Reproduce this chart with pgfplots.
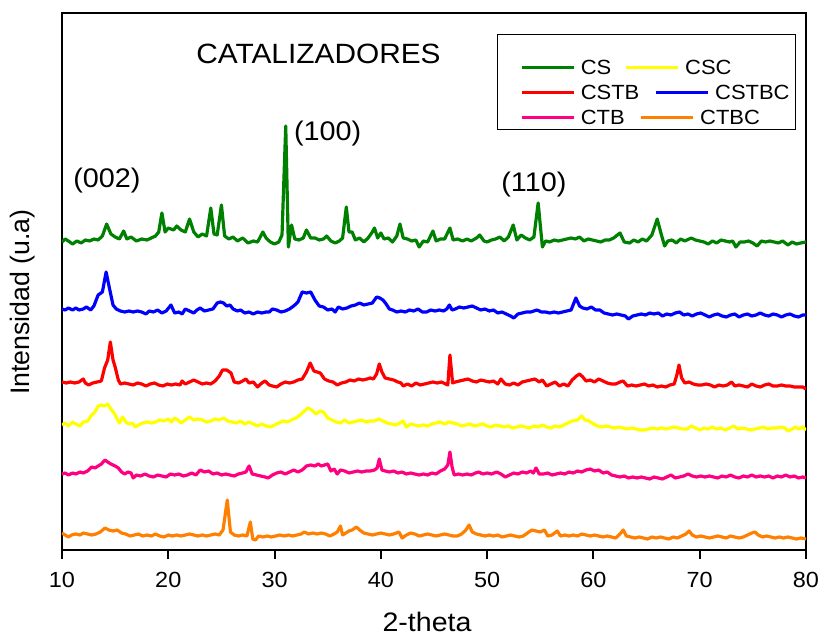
\documentclass[border=0pt]{standalone}
\usepackage{fontspec}
\setmainfont{Liberation Sans}[FakeStretch=1.07]
\newfontfamily\plainfont{Liberation Sans}
\usepackage{pgfplots}
\pgfplotsset{compat=1.18}
\definecolor{cgreen}{RGB}{0,128,0}
\definecolor{cyellow}{RGB}{255,255,0}
\definecolor{cred}{RGB}{255,0,0}
\definecolor{cblue}{RGB}{0,0,255}
\definecolor{cpink}{RGB}{255,0,128}
\definecolor{corange}{RGB}{255,128,0}
\pgfplotsset{
  imgrowone/.style={legend image code/.code={\path (0bp,0bp) (34.5bp,0bp); \draw[##1, overlay] (-6.5bp,0bp) -- (19.5bp,0bp);}},
  imgrowthree/.style={legend image code/.code={\path (0bp,0bp) (34.5bp,0bp); \draw[##1, overlay] (1bp,0bp) -- (27bp,0bp);}},
}
\begin{document}
\begin{tikzpicture}
\useasboundingbox (-31bp,-42.5bp) rectangle (380bp,275bp);
\begin{axis}[
  scale only axis, width=372bp, height=268.5bp,
  xmin=10, xmax=80, ymin=0, ymax=537,
  xtick={10,20,...,80}, ytick=\empty,
  tick pos=left, tick align=outside, major tick length=4.5bp,
  tick style={black, line width=1pt},
  axis line style={black, line width=1pt},
  ticklabel style={font=\fontsize{11}{13}\selectfont, yshift=-3bp},
  /pgf/number format/assume math mode=true,
  xlabel={2-theta},
  ylabel={Intensidad (u.a)},
  xlabel style={font=\fontsize{13.4}{15}\selectfont, at={(axis description cs:0.4906,-0.134)}, anchor=center},
  ylabel style={font=\plainfont\fontsize{13.4}{15}\selectfont, at={(axis description cs:-0.0524,0.4618)}, anchor=center},
  every axis plot/.append style={line width=1.6pt, line join=round},
  legend columns=2,
  legend cell align=left,
  legend style={at={(axis description cs:0.5847,0.961)}, anchor=north west, draw=black, line width=0.6pt, fill=white,
    font=\fontsize{10.3}{12}\selectfont, inner xsep=3bp, inner ysep=2.25bp, row sep=5.1bp,
    nodes={inner sep=0pt, text height=7.4bp, text depth=0bp},
    /tikz/every odd column/.append style={column sep=2.5bp},
    /tikz/every even column/.append style={column sep=-1bp}},
  legend image code/.code={\path (0bp,0bp); \draw[#1] (8.5bp,0bp) -- (34.5bp,0bp);},
]
\addlegendimage{empty legend}\addlegendentry[text height=5.4bp]{}
\addlegendimage{empty legend}\addlegendentry[text height=5.4bp]{}
% CS
\addplot[cgreen] coordinates {
(10.0,308) (10.3,311) (10.6,309) (11.0,306) (11.4,309) (11.8,307) (12.2,310) (12.6,309) (13.0,311) (13.4,310)
(13.8,314) (14.2,326) (14.6,316) (15.0,313) (15.4,311) (15.8,319) (16.1,311) (16.5,313) (17.0,309) (17.5,311)
(18.0,310) (18.4,312) (18.8,314) (19.1,318) (19.4,337) (19.7,318) (20.0,322) (20.5,320) (20.8,324) (21.2,320)
(21.6,318) (22.0,331) (22.4,318) (22.8,313) (23.2,316) (23.6,314) (24.0,342) (24.3,316) (24.6,315) (25.0,345)
(25.3,314) (25.7,311) (26.1,313) (26.5,309) (27.0,312) (27.5,307) (28.0,309) (28.4,308) (28.9,318) (29.2,312)
(29.6,308) (30.0,306) (30.4,308) (30.7,315) (31.05,424) (31.3,303) (31.6,325) (31.9,311) (32.3,310) (32.7,312)
(33.0,320) (33.4,312) (33.8,312) (34.2,310) (34.6,311) (34.9,314) (35.3,309) (35.7,307) (36.1,309) (36.4,312)
(36.75,343) (37.0,318) (37.3,318) (37.6,310) (38.0,312) (38.4,308) (38.8,312) (39.2,318) (39.4,322) (39.7,312)
(40.0,317) (40.3,311) (40.7,312) (41.1,308) (41.5,314) (41.8,326) (42.1,312) (42.5,311) (42.9,309) (43.3,310)
(43.6,303) (44.0,309) (44.4,308) (44.9,319) (45.2,309) (45.6,311) (46.0,311) (46.5,322) (46.8,310) (47.2,311)
(47.7,309) (48.1,311) (48.5,309) (49.0,312) (49.3,315) (49.7,309) (50.0,308) (50.4,310) (50.8,311) (51.2,313)
(51.6,309) (52.0,313) (52.45,325) (52.8,310) (53.2,315) (53.6,312) (54.0,310) (54.4,313) (54.8,347) (55.2,303)
(55.5,309) (55.9,308) (56.3,310) (56.7,309) (57.1,310) (57.5,311) (57.9,312) (58.3,311) (58.7,313) (59.1,309)
(59.5,311) (59.9,310) (60.3,309) (60.7,308) (61.1,310) (61.5,310) (61.9,312) (62.5,317) (62.9,308) (63.4,307)
(63.8,310) (64.2,308) (64.6,311) (65.0,309) (65.5,315) (66.0,331) (66.4,315) (66.7,304) (67.0,309) (67.4,310)
(67.8,307) (68.2,311) (68.6,309) (69.2,312) (69.6,310) (70.0,309) (70.4,308) (70.8,306) (71.2,309) (71.6,307)
(72.0,310) (72.4,309) (72.8,308) (73.1,309) (73.4,303) (73.8,308) (74.2,308) (74.6,309) (75.0,307) (75.4,304)
(75.8,309) (76.2,308) (76.6,309) (77.0,308) (77.4,307) (77.8,309) (78.3,305) (78.7,308) (79.1,306) (79.5,307)
(80.0,308)};
\addlegendentry{CS}
% CSC
\addplot[cyellow, imgrowone] coordinates {
(10.0,125) (10.3,127) (10.6,124) (11.0,128) (11.3,126) (11.7,124) (12.0,128) (12.4,129) (12.8,135) (13.1,138)
(13.4,144) (13.7,145) (14.0,144) (14.3,146) (14.6,141) (14.9,137) (15.2,131) (15.4,127) (15.7,133) (16.0,128)
(16.3,126) (16.6,127) (16.9,123) (17.2,125) (17.6,127) (18.0,128) (18.4,127) (18.8,128) (19.2,130) (19.6,129)
(20.0,131) (20.3,128) (20.6,132) (20.9,130) (21.2,127) (21.6,130) (22.0,133) (22.4,130) (22.8,131) (23.2,130)
(23.6,128) (24.0,129) (24.4,131) (24.8,130) (25.2,132) (25.6,129) (26.0,128) (26.4,127) (26.8,129) (27.2,126)
(27.6,128) (28.0,126) (28.4,124) (28.8,126) (29.2,124) (29.6,123) (30.0,125) (30.4,127) (30.8,129) (31.2,128)
(31.6,130) (32.0,132) (32.4,135) (32.8,139) (33.15,142) (33.5,140) (33.9,136) (34.3,139) (34.6,138) (35.0,132)
(35.4,130) (35.8,128) (36.2,127) (36.6,130) (37.0,127) (37.4,128) (37.8,129) (38.2,130) (38.6,128) (39.0,129)
(39.4,129) (39.8,131) (40.2,129) (40.6,127) (41.0,126) (41.4,125) (41.8,127) (42.1,129) (42.4,123) (42.8,126)
(43.2,125) (43.6,124) (44.0,125) (44.4,124) (44.8,126) (45.2,127) (45.6,128) (46.0,126) (46.4,128) (46.8,127)
(47.2,126) (47.6,124) (48.0,125) (48.4,126) (48.8,124) (49.2,125) (49.6,126) (50.0,124) (50.4,123) (50.8,125)
(51.2,124) (51.6,123) (52.0,124) (52.4,122) (52.8,123) (53.2,124) (53.6,123) (54.0,122) (54.4,124) (54.8,123)
(55.2,125) (55.6,123) (56.0,122) (56.4,124) (56.8,123) (57.2,125) (57.6,127) (58.0,129) (58.5,130) (58.9,134)
(59.2,130) (59.6,129) (60.0,126) (60.4,124) (60.8,123) (61.2,124) (61.6,123) (62.0,122) (62.4,123) (62.8,122)
(63.2,121) (63.6,122) (64.0,121) (64.4,120) (64.8,120) (65.2,121) (65.6,122) (66.0,121) (66.4,122) (66.8,121)
(67.2,122) (67.6,123) (68.0,122) (68.4,121) (68.8,121) (69.2,124) (69.6,122) (70.0,120) (70.4,122) (70.8,121)
(71.2,123) (71.6,121) (72.0,122) (72.4,120) (72.8,122) (73.2,124) (73.6,121) (74.0,122) (74.4,121) (74.8,120)
(75.2,121) (75.6,122) (76.0,123) (76.4,121) (76.8,122) (77.2,122) (77.6,123) (78.0,122) (78.3,119) (78.7,121)
(79.0,123) (79.3,121) (79.7,123) (80.0,120)};
\addlegendentry[overlay, xshift=-15bp]{CSC}
% CSTB
\addplot[cred] coordinates {
(10.0,168) (10.4,167) (10.8,168) (11.2,167) (11.6,168) (12.0,171) (12.2,167) (12.5,165) (12.9,167) (13.3,168)
(13.7,169) (14.0,182) (14.3,190) (14.55,208) (14.8,190) (15.0,183) (15.3,170) (15.5,166) (15.9,167) (16.3,166)
(16.7,165) (17.1,167) (17.5,166) (17.9,164) (18.3,166) (18.7,167) (19.1,165) (19.5,164) (19.9,166) (20.3,165)
(20.7,166) (21.1,165) (21.3,169) (21.6,166) (22.0,168) (22.4,170) (22.8,168) (23.2,166) (23.6,167) (24.0,166)
(24.4,169) (24.8,174) (25.1,180) (25.5,180) (25.9,177) (26.2,168) (26.6,167) (27.0,169) (27.3,171) (27.6,167)
(28.0,168) (28.4,163) (28.8,167) (29.1,169) (29.5,165) (29.8,164) (30.2,163) (30.6,166) (31.0,168) (31.4,167)
(31.8,168) (32.2,170) (32.6,171) (33.0,178) (33.35,187) (33.7,179) (34.0,178) (34.3,177) (34.7,171) (35.1,169)
(35.5,168) (35.9,165) (36.3,167) (36.7,168) (37.1,170) (37.5,169) (37.9,171) (38.3,170) (38.7,171) (39.0,172)
(39.3,171) (39.6,176) (39.85,186) (40.1,178) (40.4,172) (40.8,171) (41.2,170) (41.6,168) (41.9,167) (42.1,164)
(42.5,166) (42.9,164) (43.3,167) (43.7,165) (44.1,166) (44.5,167) (44.9,168) (45.3,167) (45.7,168) (46.1,166)
(46.3,165) (46.5,195) (46.75,167) (47.0,168) (47.4,169) (47.8,170) (48.2,171) (48.6,169) (49.0,168) (49.4,170)
(49.8,169) (50.2,168) (50.6,169) (51.0,166) (51.3,171) (51.7,166) (52.1,165) (52.5,167) (52.9,165) (53.3,168)
(53.7,169) (54.1,170) (54.5,171) (54.9,168) (55.2,170) (55.6,164) (56.0,166) (56.4,168) (56.8,164) (57.2,166)
(57.6,164) (58.0,170) (58.4,174) (58.7,176) (59.0,173) (59.3,169) (59.7,170) (60.1,168) (60.5,171) (60.9,169)
(61.3,167) (61.7,166) (62.1,166) (62.5,168) (62.8,169) (63.2,164) (63.6,165) (64.0,164) (64.4,165) (64.8,166)
(65.2,164) (65.6,165) (66.0,163) (66.4,164) (66.8,163) (67.2,165) (67.6,166) (67.85,175) (68.05,185) (68.3,172)
(68.6,167) (69.0,168) (69.4,166) (69.8,165) (70.2,165) (70.6,166) (71.0,165) (71.4,163) (71.8,165) (72.2,164)
(72.6,165) (73.0,168) (73.3,164) (73.7,165) (74.1,164) (74.5,163) (74.9,166) (75.3,164) (75.7,163) (76.1,165)
(76.5,166) (76.9,164) (77.3,164) (77.7,165) (78.1,164) (78.5,164) (78.9,163) (79.3,163) (79.7,163) (80.0,161)};
\addlegendentry{CSTB}
% CSTBC
\addplot[cblue] coordinates {
(10.0,241) (10.3,240) (10.6,242) (11.0,240) (11.3,242) (11.6,240) (12.0,241) (12.3,243) (12.7,240) (13.0,244)
(13.4,255) (13.8,258) (14.15,278) (14.5,260) (14.8,245) (15.1,241) (15.5,239) (15.9,238) (16.3,239) (16.7,238)
(17.1,239) (17.5,238) (17.9,236) (18.2,239) (18.6,238) (19.0,240) (19.4,237) (19.8,239) (20.25,245) (20.6,237)
(21.0,238) (21.3,236) (21.6,241) (22.0,239) (22.4,237) (22.7,240) (23.0,242) (23.4,239) (23.8,240) (24.2,241)
(24.6,247) (24.9,248) (25.2,247) (25.5,244) (25.8,245) (26.1,241) (26.5,239) (26.8,240) (27.2,237) (27.6,238)
(28.0,236) (28.4,238) (28.8,237) (29.2,238) (29.5,238) (29.8,241) (30.2,240) (30.6,238) (31.0,239) (31.4,241)
(31.8,244) (32.2,248) (32.6,258) (33.0,257) (33.4,258) (33.8,250) (34.2,244) (34.6,243) (35.0,240) (35.4,241)
(35.7,238) (36.0,243) (36.4,241) (36.8,242) (37.2,244) (37.6,245) (38.0,247) (38.4,245) (38.8,246) (39.2,247)
(39.6,253) (39.9,252) (40.2,250) (40.5,246) (40.8,241) (41.1,240) (41.5,238) (41.9,239) (42.3,238) (42.7,240)
(43.1,239) (43.5,241) (43.9,238) (44.3,238) (44.7,240) (45.1,239) (45.5,240) (45.9,239) (46.2,241) (46.45,245)
(46.7,240) (47.0,241) (47.4,243) (47.8,242) (48.2,243) (48.6,244) (49.0,242) (49.4,240) (49.8,241) (50.2,239)
(50.6,240) (51.0,237) (51.4,238) (51.8,236) (52.2,234) (52.5,232) (52.9,236) (53.3,237) (53.7,238) (54.1,238)
(54.7,240) (55.1,238) (55.5,238) (55.9,237) (56.3,238) (56.7,237) (57.1,238) (57.5,239) (57.9,240) (58.35,252)
(58.7,244) (59.0,242) (59.4,241) (59.8,243) (60.2,240) (60.6,240) (61.0,237) (61.4,236) (61.8,235) (62.2,236)
(62.6,235) (63.0,234) (63.3,231) (63.7,234) (64.1,235) (64.5,236) (64.9,235) (65.3,237) (65.7,236) (66.1,237)
(66.5,234) (66.9,236) (67.3,235) (67.7,237) (68.1,238) (68.5,235) (68.9,236) (69.3,234) (69.7,236) (70.1,237)
(70.5,235) (70.9,233) (71.3,235) (71.7,236) (72.1,234) (72.5,233) (72.9,235) (73.3,236) (73.7,233) (74.1,235)
(74.5,236) (74.9,234) (75.3,235) (75.7,237) (76.1,235) (76.5,234) (76.9,236) (77.3,235) (77.7,233) (78.1,235)
(78.5,236) (78.9,234) (79.3,233) (79.7,235) (80.0,235)};
\addlegendentry{CSTBC}
% CTB
\addplot[cpink] coordinates {
(10.0,76) (10.3,77) (10.6,75) (11.0,77) (11.3,76) (11.7,78) (12.0,77) (12.4,79) (12.8,83) (13.1,82)
(13.4,84) (13.7,86) (14.05,90) (14.3,88) (14.6,86) (15.0,84) (15.3,82) (15.6,78) (15.9,76) (16.2,78)
(16.5,77) (16.7,72) (17.0,75) (17.4,74) (17.8,76) (18.2,74) (18.6,73) (19.0,75) (19.4,74) (19.8,73)
(20.2,76) (20.6,75) (21.0,76) (21.4,74) (21.8,75) (22.2,77) (22.6,75) (23.0,80) (23.4,78) (23.8,79)
(24.2,76) (24.6,77) (25.0,75) (25.4,76) (25.8,75) (26.2,74) (26.6,76) (27.0,77) (27.3,78) (27.6,84)
(27.9,76) (28.3,75) (28.7,74) (29.1,73) (29.4,72) (29.8,75) (30.2,77) (30.6,78) (31.0,76) (31.4,78)
(31.8,80) (32.2,78) (32.6,80) (33.0,84) (33.4,85) (33.8,84) (34.1,86) (34.4,84) (34.7,85) (35.0,86)
(35.3,79) (35.6,81) (35.9,76) (36.2,80) (36.6,79) (37.0,77) (37.4,78) (37.8,79) (38.2,78) (38.6,79)
(39.0,79) (39.4,80) (39.65,82) (39.85,91) (40.1,80) (40.4,79) (40.8,78) (41.2,79) (41.6,77) (42.0,78)
(42.4,76) (42.8,77) (43.2,76) (43.6,75) (44.0,76) (44.4,75) (44.8,77) (45.2,76) (45.6,79) (46.0,81)
(46.3,85) (46.5,98) (46.7,83) (46.9,75) (47.3,76) (47.7,75) (48.1,76) (48.5,75) (48.9,77) (49.2,78)
(49.6,76) (50.0,77) (50.4,76) (50.9,78) (51.3,76) (51.7,73) (52.1,75) (52.5,77) (52.9,76) (53.3,78)
(53.7,77) (54.1,79) (54.35,77) (54.6,82) (54.9,76) (55.3,76) (55.7,77) (56.1,75) (56.5,76) (56.9,77)
(57.3,76) (57.7,78) (58.1,77) (58.5,79) (58.9,78) (59.3,80) (59.7,81) (60.1,79) (60.5,80) (60.9,77)
(61.3,78) (61.7,75) (62.1,74) (62.5,73) (62.9,74) (63.3,72) (63.7,73) (64.1,72) (64.5,73) (64.9,72)
(65.3,71) (65.7,73) (66.1,72) (66.5,71) (66.9,73) (67.3,75) (67.7,72) (68.1,73) (68.5,74) (68.9,76)
(69.3,74) (69.7,73) (70.1,74) (70.5,73) (70.9,74) (71.3,73) (71.7,72) (72.1,74) (72.5,73) (72.9,75)
(73.3,73) (73.7,72) (74.1,74) (74.5,73) (74.9,75) (75.3,73) (75.7,74) (76.1,73) (76.5,74) (76.9,72)
(77.3,74) (77.7,73) (78.1,75) (78.5,73) (78.9,74) (79.3,72) (79.7,73) (80.0,72)};
\addlegendentry{CTB}
% CTBC
\addplot[corange, imgrowthree] coordinates {
(10.0,17) (10.3,15) (10.6,13) (10.9,15) (11.3,16) (11.7,15) (12.0,17) (12.4,16) (12.8,15) (13.2,16)
(13.6,18) (14.05,22) (14.4,20) (14.8,19) (15.2,20) (15.6,17) (16.0,16) (16.4,14) (16.8,15) (17.2,16)
(17.6,14) (18.0,15) (18.4,14) (18.8,16) (19.2,14) (19.6,13) (20.0,15) (20.4,14) (20.8,15) (21.2,14)
(21.6,15) (22.0,16) (22.4,15) (22.8,14) (23.2,15) (23.6,14) (24.0,15) (24.4,16) (24.8,15) (25.15,20)
(25.55,50) (25.85,18) (26.2,15) (26.6,14) (27.0,15) (27.4,14) (27.72,28) (27.95,11) (28.2,10) (28.5,14)
(28.9,13) (29.3,14) (29.7,13) (30.1,14) (30.5,15) (30.9,14) (31.3,15) (31.7,14) (32.1,15) (32.5,16)
(32.8,18) (33.2,16) (33.6,17) (34.0,16) (34.4,17) (34.8,16) (35.2,14) (35.6,16) (35.9,18) (36.2,24)
(36.4,15) (36.7,17) (37.0,19) (37.3,20) (37.7,23) (38.0,20) (38.4,17) (38.8,16) (39.2,15) (39.6,16)
(40.0,17) (40.4,16) (40.8,15) (41.2,16) (41.7,18) (42.0,12) (42.4,15) (42.8,17) (43.2,16) (43.6,14)
(44.0,15) (44.4,16) (44.8,15) (45.2,14) (45.6,15) (46.0,16) (46.4,15) (46.8,14) (47.2,14) (47.6,16)
(48.0,20) (48.3,25) (48.6,18) (49.0,16) (49.4,15) (49.8,14) (50.2,15) (50.6,14) (51.0,15) (51.4,13)
(51.8,14) (52.2,15) (52.6,14) (53.0,13) (53.4,14) (53.8,17) (54.2,20) (54.6,19) (55.0,18) (55.4,20)
(55.7,14) (56.1,15) (56.6,19) (56.9,14) (57.3,15) (57.7,14) (58.1,15) (58.5,14) (58.9,16) (59.3,15)
(59.7,14) (60.1,15) (60.5,14) (60.9,13) (61.3,14) (61.7,13) (62.1,12) (62.5,16) (62.8,20) (63.1,14)
(63.5,13) (63.9,12) (64.3,13) (64.7,12) (65.1,11) (65.5,13) (65.9,12) (66.3,13) (66.7,12) (67.1,11)
(67.5,13) (67.9,12) (68.3,14) (68.7,16) (69.0,19) (69.3,15) (69.7,13) (70.1,14) (70.5,13) (70.9,12)
(71.3,13) (71.7,14) (72.1,13) (72.5,12) (72.9,14) (73.3,13) (73.7,12) (74.1,13) (74.5,15) (74.9,17)
(75.2,18) (75.5,15) (75.9,13) (76.3,14) (76.7,13) (77.1,12) (77.5,13) (77.9,12) (78.3,13) (78.7,12)
(79.1,11) (79.5,12) (80.0,11)};
\addlegendentry[overlay, xshift=-7.5bp]{CTBC}
\node[font=\fontsize{14}{16}\selectfont] at (axis cs:34.13,496) {CATALIZADORES};
\node[font=\fontsize{13.5}{15}\selectfont] at (axis cs:14.23,369) {(002)};
\node[font=\fontsize{13.5}{15}\selectfont] at (axis cs:35.0,416.5) {(100)};
\node[font=\fontsize{13.5}{15}\selectfont] at (axis cs:54.4,365) {(110)};
\end{axis}
\end{tikzpicture}
\end{document}
